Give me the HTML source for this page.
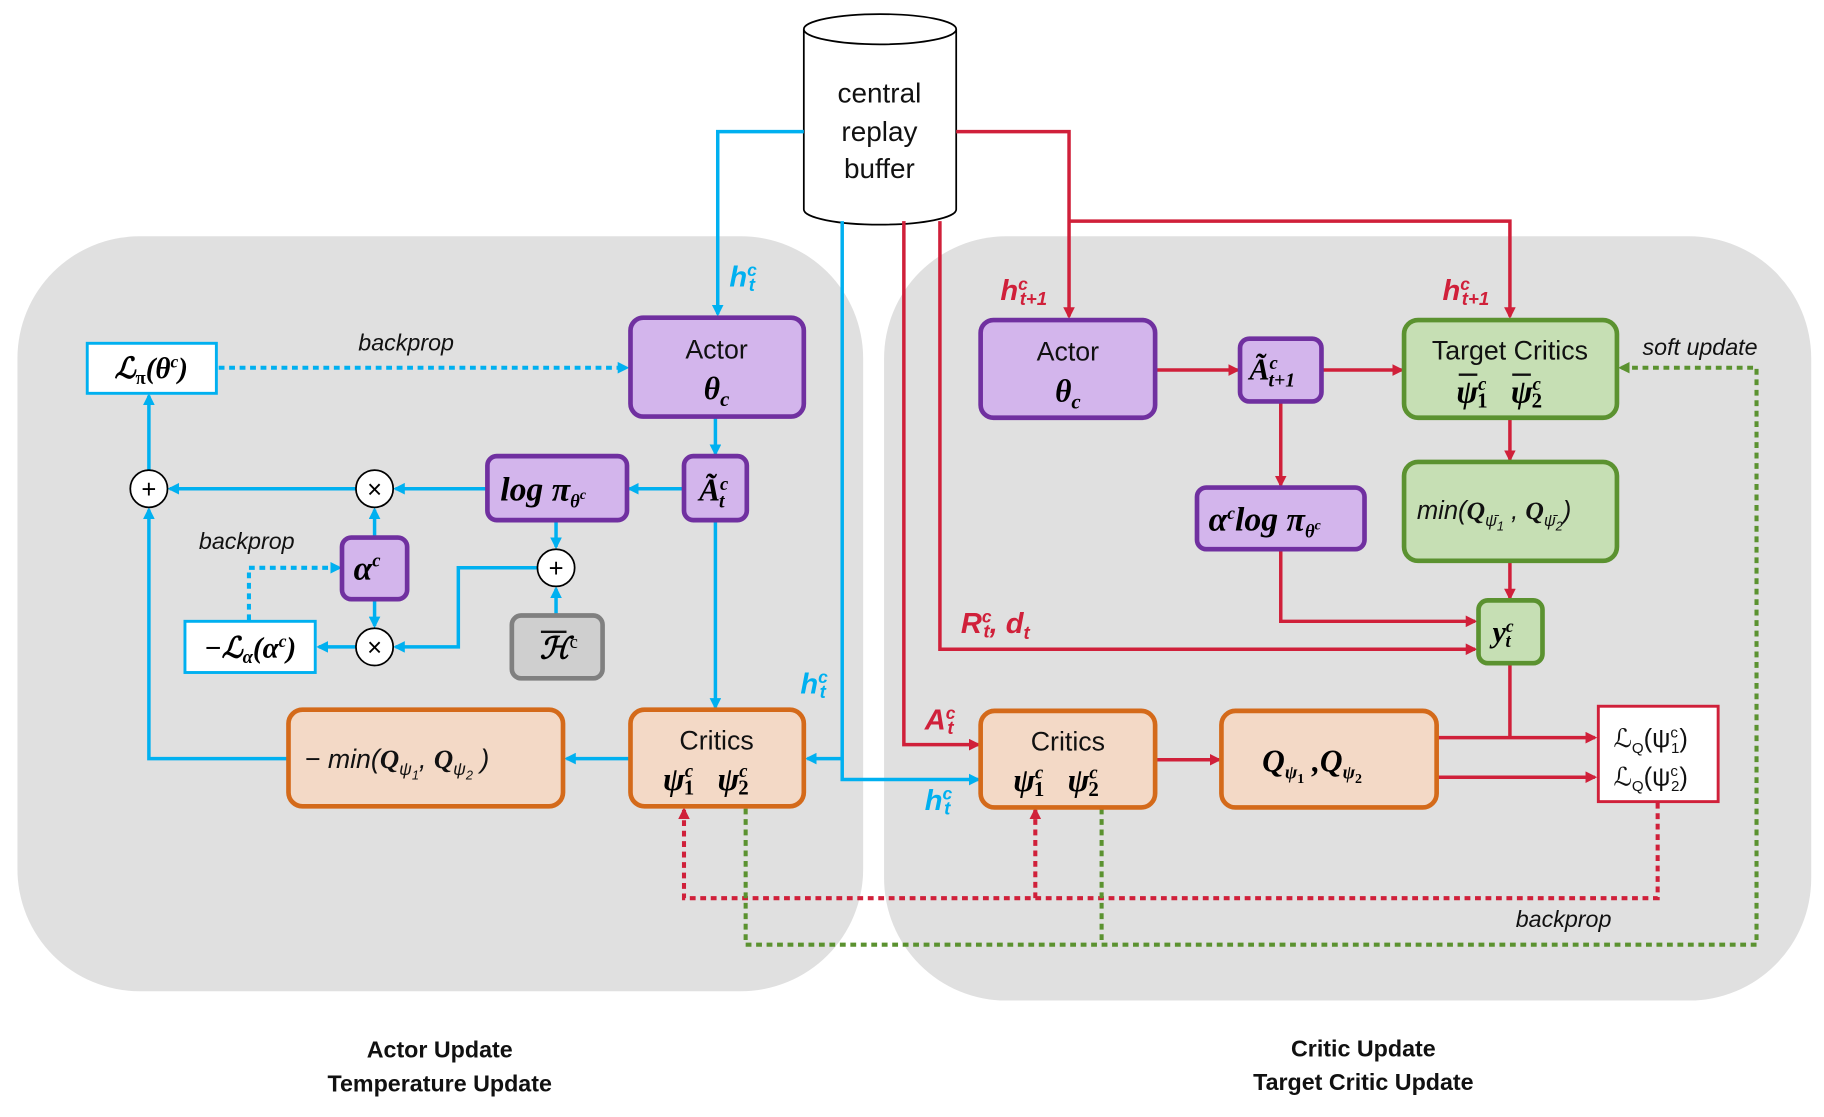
<!DOCTYPE html>
<html><head><meta charset="utf-8"><style>
html,body{margin:0;padding:0;background:#fff}
svg{display:block}
text{font-family:"Liberation Sans","DejaVu Sans",sans-serif}
.m{font-family:"Liberation Serif","DejaVu Serif",serif;font-style:italic;font-weight:bold}
</style></head><body>
<svg width="1824" height="1117" viewBox="0 0 1568 960" xmlns="http://www.w3.org/2000/svg">
<defs>
<marker id="ab" markerWidth="10" markerHeight="10" refX="8" refY="5" orient="auto" markerUnits="userSpaceOnUse"><path d="M0,0 L10,5 L0,10 z" fill="#00B0F0"/></marker>
<marker id="ar" markerWidth="10" markerHeight="10" refX="8" refY="5" orient="auto" markerUnits="userSpaceOnUse"><path d="M0,0 L10,5 L0,10 z" fill="#D0203A"/></marker>
<marker id="ag" markerWidth="10" markerHeight="10" refX="8" refY="5" orient="auto" markerUnits="userSpaceOnUse"><path d="M0,0 L10,5 L0,10 z" fill="#5B9230"/></marker>
</defs>
<rect x="15" y="203" width="727" height="649" rx="105" fill="#E0E0E0"/>
<rect x="760" y="203" width="797" height="657" rx="105" fill="#E0E0E0"/>
<path d="M691,25 L691,180 A65.5,13 0 0 0 822,180 L822,25" fill="#fff" stroke="#000" stroke-width="1.5"/>
<ellipse cx="756.5" cy="25" rx="65.5" ry="13" fill="#fff" stroke="#000" stroke-width="1.5"/>
<text x="756" y="88" text-anchor="middle" font-size="24" fill="#111">central</text>
<text x="756" y="121" text-anchor="middle" font-size="24" fill="#111">replay</text>
<text x="756" y="153" text-anchor="middle" font-size="24" fill="#111">buffer</text>

<g stroke="#00B0F0" stroke-width="3" fill="none">
<polyline points="691,113 617,113 617,270" marker-end="url(#ab)"/>
<line x1="615" y1="358" x2="615" y2="390" marker-end="url(#ab)"/>
<line x1="588" y1="420" x2="541" y2="420" marker-end="url(#ab)"/>
<line x1="419" y1="420" x2="340" y2="420" marker-end="url(#ab)"/>
<line x1="306" y1="420" x2="146" y2="420" marker-end="url(#ab)"/>
<line x1="128" y1="404" x2="128" y2="340" marker-end="url(#ab)"/>
<line x1="478" y1="447" x2="478" y2="470" marker-end="url(#ab)"/>
<line x1="478" y1="529" x2="478" y2="506" marker-end="url(#ab)"/>
<polyline points="462,488 394,488 394,556 340,556" marker-end="url(#ab)"/>
<line x1="322" y1="462" x2="322" y2="438" marker-end="url(#ab)"/>
<line x1="322" y1="515" x2="322" y2="538" marker-end="url(#ab)"/>
<line x1="306" y1="556" x2="274" y2="556" marker-end="url(#ab)"/>
<line x1="615" y1="447" x2="615" y2="608" marker-end="url(#ab)"/>
<line x1="542" y1="652" x2="487" y2="652" marker-end="url(#ab)"/>
<polyline points="248,652 128,652 128,438" marker-end="url(#ab)"/>
<polyline points="724,190 724,670 841,670" marker-end="url(#ab)"/>
<line x1="724" y1="652" x2="694" y2="652" marker-end="url(#ab)"/>
<line x1="188" y1="316" x2="539" y2="316" stroke-dasharray="5,4" stroke-width="3.5" marker-end="url(#ab)"/>
<polyline points="214,533 214,488 292,488" stroke-dasharray="5,4" stroke-width="3.5" marker-end="url(#ab)"/>
</g>
<g stroke="#D0203A" stroke-width="3" fill="none">
<polyline points="822,113 919,113 919,272" marker-end="url(#ar)"/>
<polyline points="919,190 1298,190 1298,272" marker-end="url(#ar)"/>
<polyline points="777,190 777,640 841,640" marker-end="url(#ar)"/>
<polyline points="808,190 808,558 1268,558" marker-end="url(#ar)"/>
<line x1="993" y1="318" x2="1064" y2="318" marker-end="url(#ar)"/>
<line x1="1136" y1="318" x2="1205" y2="318" marker-end="url(#ar)"/>
<line x1="1101" y1="345" x2="1101" y2="417" marker-end="url(#ar)"/>
<polyline points="1101,472 1101,534 1268,534" marker-end="url(#ar)"/>
<line x1="1298" y1="359" x2="1298" y2="395" marker-end="url(#ar)"/>
<line x1="1298" y1="482" x2="1298" y2="514" marker-end="url(#ar)"/>
<line x1="1298" y1="570" x2="1298" y2="634"/>
<line x1="993" y1="653" x2="1048" y2="653" marker-end="url(#ar)"/>
<line x1="1235" y1="634" x2="1371" y2="634" marker-end="url(#ar)"/>
<line x1="1235" y1="668" x2="1371" y2="668" marker-end="url(#ar)"/>
<polyline points="1425,690 1425,772 588,772 588,696" stroke-dasharray="5,4" stroke-width="3.5" marker-end="url(#ar)"/>
<line x1="890" y1="772" x2="890" y2="696" stroke-dasharray="5,4" stroke-width="3.5" marker-end="url(#ar)"/>
</g>
<g stroke="#5B9230" stroke-width="3.5" fill="none" stroke-dasharray="5,4">
<polyline points="641,695 641,812 1510,812 1510,316 1393,316" marker-end="url(#ag)"/>
<line x1="947" y1="695" x2="947" y2="812"/>
</g>

<g fill="#fff" stroke="#000" stroke-width="1.5">
<circle cx="128" cy="420" r="16"/><circle cx="322" cy="420" r="16"/>
<circle cx="478" cy="488" r="16"/><circle cx="322" cy="556" r="16"/>
</g>
<g font-size="22" text-anchor="middle" fill="#000">
<text x="128" y="428">+</text><text x="322" y="428">×</text>
<text x="478" y="496">+</text><text x="322" y="564">×</text>
</g>

<g fill="#D3B5EC" stroke="#7030A0" stroke-width="4">
<rect x="542" y="273" width="149" height="85" rx="11"/>
<rect x="588" y="392" width="54" height="55" rx="8"/>
<rect x="419" y="392" width="120" height="55" rx="8"/>
<rect x="294" y="462" width="56" height="53" rx="8"/>
<rect x="843" y="275" width="150" height="84" rx="11"/>
<rect x="1066" y="291" width="70" height="54" rx="8"/>
<rect x="1029" y="419" width="144" height="53" rx="8"/>
</g>
<rect x="440" y="529" width="78" height="54" rx="8" fill="#CFCFCF" stroke="#808080" stroke-width="4"/>
<g fill="#F3D9C6" stroke="#D46A1A" stroke-width="4">
<rect x="542" y="610" width="149" height="83" rx="12"/>
<rect x="248" y="610" width="236" height="83" rx="12"/>
<rect x="843" y="611" width="150" height="83" rx="12"/>
<rect x="1050" y="611" width="185" height="83" rx="12"/>
</g>
<g fill="#C6DFB4" stroke="#5B9230" stroke-width="4">
<rect x="1207" y="275" width="183" height="84" rx="12"/>
<rect x="1207" y="397" width="183" height="85" rx="12"/>
<rect x="1271" y="516" width="55" height="54" rx="8"/>
</g>
<rect x="75" y="295" width="111" height="43" fill="#fff" stroke="#00B0F0" stroke-width="2.5"/>
<rect x="159" y="534" width="112" height="44" fill="#fff" stroke="#00B0F0" stroke-width="2.5"/>
<rect x="1374" y="607" width="103" height="82" fill="#fff" stroke="#D0203A" stroke-width="2.5"/>

<text x="616" y="308" text-anchor="middle" font-size="23" fill="#111">Actor</text>
<text x="616" y="343" text-anchor="middle" class="m" font-size="27">θ<tspan font-size="18" dy="6">c</tspan></text>
<text x="918" y="310" text-anchor="middle" font-size="23" fill="#111">Actor</text>
<text x="918" y="345" text-anchor="middle" class="m" font-size="27">θ<tspan font-size="18" dy="6">c</tspan></text>
<text x="130" y="325" text-anchor="middle" class="m" font-size="25">ℒ<tspan font-size="16" dy="5" font-style="normal">π</tspan><tspan dy="-5">(θ</tspan><tspan font-size="15" dy="-9">c</tspan><tspan dy="9">)</tspan></text>
<text x="215" y="565" text-anchor="middle" class="m" font-size="25">−ℒ<tspan font-size="16" dy="5">α</tspan><tspan dy="-5">(α</tspan><tspan font-size="15" dy="-9">c</tspan><tspan dy="9">)</tspan></text>
<text x="601" y="430" class="m" font-size="27">Ã<tspan font-size="16" dy="-9">c</tspan><tspan font-size="17" dx="-8" dy="15">t</tspan></text>
<text x="430" y="430" class="m" font-size="29">log π<tspan font-size="16" dy="6">θ</tspan><tspan font-size="12" dy="-7">c</tspan></text>
<text x="304" y="498" class="m" font-size="29">α<tspan font-size="16" dy="-11">c</tspan></text>
<text x="464" y="566" class="m" font-size="26">ℋ<tspan font-size="16" dy="-9" font-weight="normal" font-style="normal">c</tspan></text>
<line x1="465" y1="543" x2="487" y2="543" stroke="#111" stroke-width="2"/>
<text x="616" y="644" text-anchor="middle" font-size="23" fill="#111">Critics</text>
<text x="570" y="679" class="m" font-size="28">ψ<tspan font-size="16" dy="-11">c</tspan><tspan font-size="18" dx="-8" dy="15" font-style="normal">1</tspan><tspan dx="20" dy="-4">ψ</tspan><tspan font-size="16" dy="-11">c</tspan><tspan font-size="18" dx="-8" dy="15" font-style="normal">2</tspan></text>
<text x="918" y="645" text-anchor="middle" font-size="23" fill="#111">Critics</text>
<text x="871" y="680" class="m" font-size="28">ψ<tspan font-size="16" dy="-11">c</tspan><tspan font-size="18" dx="-8" dy="15" font-style="normal">1</tspan><tspan dx="20" dy="-4">ψ</tspan><tspan font-size="16" dy="-11">c</tspan><tspan font-size="18" dx="-8" dy="15" font-style="normal">2</tspan></text>
<text x="262" y="660" font-size="23" fill="#111" font-family="Liberation Serif,serif" font-style="italic">− min(<tspan class="m">Q</tspan><tspan font-size="15" dy="6">ψ</tspan><tspan font-size="11" dy="4">1</tspan><tspan dy="-10">, </tspan><tspan class="m">Q</tspan><tspan font-size="15" dy="6">ψ</tspan><tspan font-size="11" dy="4">2</tspan><tspan dy="-10"> )</tspan></text>
<text x="1074" y="326" class="m" font-size="26">Ã<tspan font-size="16" dy="-9">c</tspan><tspan font-size="17" dx="-8" dy="15">t+1</tspan></text>
<text x="1039" y="456" class="m" font-size="29">α<tspan font-size="15" dy="-10">c</tspan><tspan dy="10">log π</tspan><tspan font-size="16" dy="6">θ</tspan><tspan font-size="12" dy="-7">c</tspan></text>
<text x="1298" y="309" text-anchor="middle" font-size="23" fill="#111">Target Critics</text>
<text x="1252" y="346" class="m" font-size="28">ψ<tspan font-size="16" dy="-11">c</tspan><tspan font-size="18" dx="-8" dy="15" font-style="normal">1</tspan><tspan dx="20" dy="-4">ψ</tspan><tspan font-size="16" dy="-11">c</tspan><tspan font-size="18" dx="-8" dy="15" font-style="normal">2</tspan></text>
<line x1="1254" y1="322" x2="1270" y2="322" stroke="#111" stroke-width="2"/>
<line x1="1300" y1="322" x2="1316" y2="322" stroke="#111" stroke-width="2"/>
<text x="1218" y="446" font-size="22" fill="#111" font-family="Liberation Serif,serif" font-style="italic">min(<tspan class="m">Q</tspan><tspan font-size="14" dy="6">ψ̄</tspan><tspan font-size="11" dy="4">1</tspan><tspan dy="-10"> , </tspan><tspan class="m">Q</tspan><tspan font-size="14" dy="6">ψ̄</tspan><tspan font-size="11" dy="4">2</tspan><tspan dy="-10">)</tspan></text>
<text x="1283" y="552" class="m" font-size="26">y<tspan font-size="15" dy="-9">c</tspan><tspan font-size="16" dx="-7" dy="13">t</tspan></text>
<text x="1085" y="663" class="m" font-size="27">Q<tspan font-size="16" dy="6">ψ</tspan><tspan font-size="12" dy="4" font-style="normal">1</tspan><tspan dy="-10"> ,Q</tspan><tspan font-size="16" dy="6">ψ</tspan><tspan font-size="12" dy="4" font-style="normal">2</tspan></text>
<text x="1387" y="642" font-size="22" fill="#111" font-family="Liberation Serif,serif">ℒ<tspan font-size="13" dy="5">Q</tspan><tspan dy="-5">(ψ</tspan><tspan font-size="13" dy="-8">c</tspan><tspan font-size="13" dx="-6" dy="13">1</tspan><tspan dy="-5">)</tspan></text>
<text x="1387" y="675" font-size="22" fill="#111" font-family="Liberation Serif,serif">ℒ<tspan font-size="13" dy="5">Q</tspan><tspan dy="-5">(ψ</tspan><tspan font-size="13" dy="-8">c</tspan><tspan font-size="13" dx="-6" dy="13">2</tspan><tspan dy="-5">)</tspan></text>

<g font-style="italic" font-size="20" fill="#111">
<text x="308" y="301">backprop</text>
<text x="171" y="472">backprop</text>
<text x="1412" y="305">soft update</text>
<text x="1303" y="797">backprop</text>
</g>
<g class="m" font-size="25" fill="#00B0F0">
<text x="627" y="246">h<tspan font-size="15" dy="-9">c</tspan><tspan font-size="16" dx="-7" dy="13">t</tspan></text>
<text x="688" y="596">h<tspan font-size="15" dy="-9">c</tspan><tspan font-size="16" dx="-7" dy="13">t</tspan></text>
<text x="795" y="696">h<tspan font-size="15" dy="-9">c</tspan><tspan font-size="16" dx="-7" dy="13">t</tspan></text>
</g>
<g class="m" font-size="25" fill="#D0203A">
<text x="860" y="258">h<tspan font-size="15" dy="-9">c</tspan><tspan font-size="16" dx="-7" dy="13">t+1</tspan></text>
<text x="1240" y="258">h<tspan font-size="15" dy="-9">c</tspan><tspan font-size="16" dx="-7" dy="13">t+1</tspan></text>
<text x="795" y="627">A<tspan font-size="15" dy="-9">c</tspan><tspan font-size="16" dx="-7" dy="13">t</tspan></text>
<text x="826" y="544">R<tspan font-size="15" dy="-9">c</tspan><tspan font-size="16" dx="-7" dy="13">t</tspan><tspan dy="-4">, d</tspan><tspan font-size="16" dy="5">t</tspan></text>
</g>
<g font-size="20" font-weight="bold" fill="#111" text-anchor="middle">
<text x="378" y="909">Actor Update</text>
<text x="378" y="938">Temperature Update</text>
<text x="1172" y="908">Critic Update</text>
<text x="1172" y="937">Target Critic Update</text>
</g>
</svg>
</body></html>
